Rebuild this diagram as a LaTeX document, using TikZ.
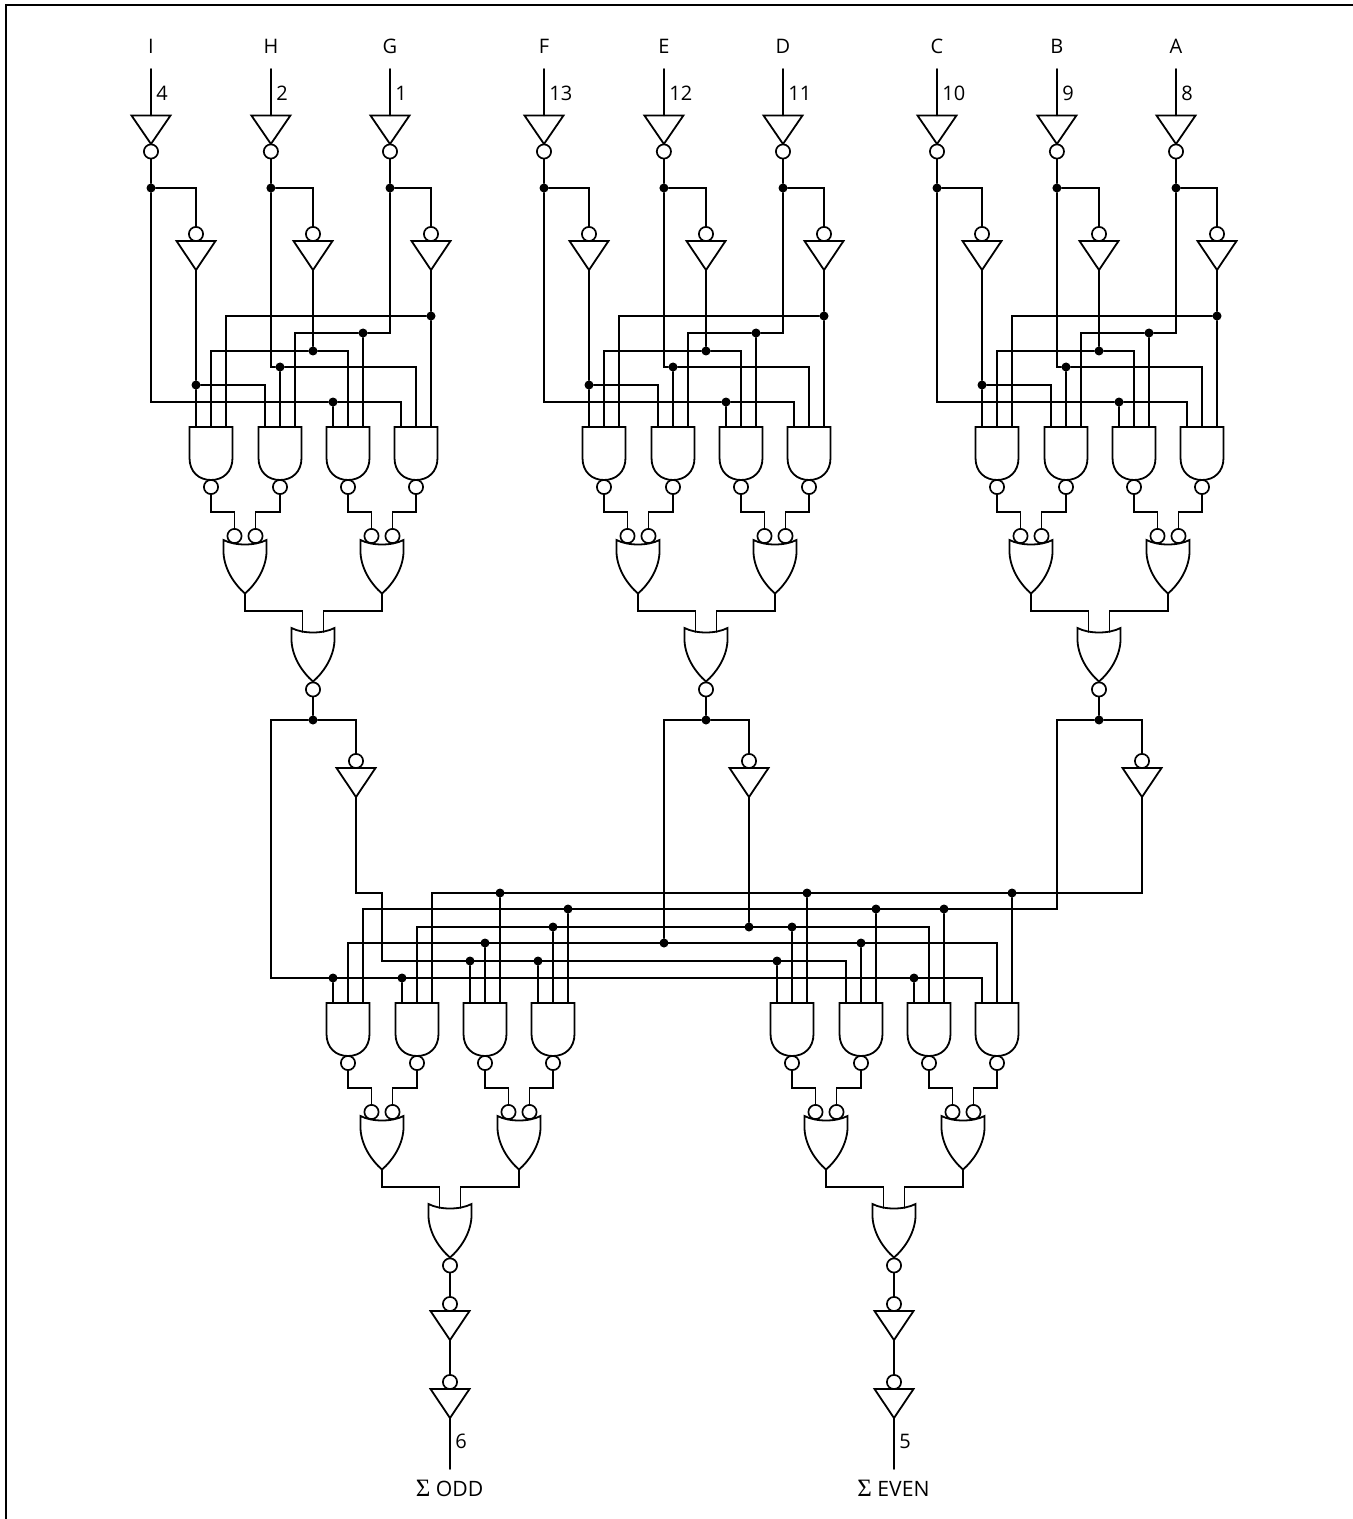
\documentclass[tikz,border=0pt]{standalone}
\usepackage{fontspec}
\setmainfont{Open Sans}
\newfontfamily\sigmafont{Liberation Serif}
\usetikzlibrary{positioning}

\tikzset{
    wire/.style={line width=0.9pt, line cap=round, line join=miter},
    bubble/.style={circle, draw, fill=white, line width=0.85pt, minimum size=7.1pt, inner sep=0pt},
    junction/.style={circle, fill=black, minimum size=4.5pt, inner sep=0pt},
    pinname/.style={inner sep=0pt, font=\fontsize{10}{10}\selectfont},
    pinnum/.style={inner sep=0pt, anchor=west, font=\fontsize{10}{10}\selectfont},
    sumname/.style={inner sep=0pt, font=\fontsize{10.6}{11}\selectfont},
    % inverter, bubble below the triangle
    pics/invdn/.style={code={
        \draw[wire, fill=white] (-19.5,0) -- (19.5,0) -- (0,28.5) -- cycle;
        \coordinate (-in) at (0,0);
        \node[bubble] (-o) at (0,36) {};
    }},
    % inverter, bubble above the triangle
    pics/invup/.style={code={
        \draw[wire, fill=white] (-19.5,0) -- (19.5,0) -- (0,29) -- cycle;
        \node[bubble] (-o) at (0,-7) {};
        \coordinate (-out) at (0,29);
    }},
    % three input nand, pos = middle of its top edge
    pics/nandg/.style={code={
        \draw[wire] (-21.5,0) -- (-21.5,31) .. controls (-21.5,45) and (-12,53) .. (0,53)
            .. controls (12,53) and (21.5,45) .. (21.5,31) -- (21.5,0) -- cycle;
        \coordinate (-a) at (-15,0);
        \coordinate (-b) at (0,0);
        \coordinate (-c) at (15,0);
        \node[bubble] (-o) at (0,60) {};
    }},
    % or outline, pos = middle of the line between its two top corners
    pics/org/.style={code={
        \draw[wire] (-21.5,0) -- (-21.5,13) .. controls (-20.5,30) and (-10,45) .. (0,53.5)
            .. controls (10,45) and (20.5,30) .. (21.5,13) -- (21.5,0)
            .. controls (10,6) and (-10,6) .. cycle;
        \coordinate (-a) at (-10.5,4);
        \coordinate (-b) at (10.5,4);
        \coordinate (-pa) at (-10.5,-4);
        \coordinate (-pb) at (10.5,-4);
        \coordinate (-fa) at (-10.5,-28);
        \coordinate (-fb) at (10.5,-28);
        \coordinate (-ga) at (-10.5,-17);
        \coordinate (-gb) at (10.5,-17);
        \coordinate (-out) at (0,53.5);
    }},
}

% four nands, two ors with bubbles, one or with output bubble
\newcommand{\gatetree}[3]{
    \pic (#1n1) at (#2,#3) {nandg};
    \pic (#1n2) at ({#2+69},#3) {nandg};
    \pic (#1n3) at ({#2+137},#3) {nandg};
    \pic (#1n4) at ({#2+205},#3) {nandg};
    \pic (#1p) at ({#2+34},{#3+113}) {org};
    \pic (#1q) at ({#2+171},{#3+113}) {org};
    \pic (#1r) at ({#2+102},{#3+201}) {org};
    \node[bubble] (#1pa) at (#1p-pa) {};
    \node[bubble] (#1pb) at (#1p-pb) {};
    \node[bubble] (#1qa) at (#1q-pa) {};
    \node[bubble] (#1qb) at (#1q-pb) {};
    \node[bubble, below=0pt of #1r-out] (#1out) {};
    \draw[wire] (#1n1-o.south) |- (#1p-fa) -- (#1pa.north);
    \draw[wire] (#1n2-o.south) |- (#1p-fb) -- (#1pb.north);
    \draw[wire] (#1n3-o.south) |- (#1q-fa) -- (#1qa.north);
    \draw[wire] (#1n4-o.south) |- (#1q-fb) -- (#1qb.north);
    \draw[wire] (#1p-out) |- (#1r-ga) -- (#1r-a);
    \draw[wire] (#1q-out) |- (#1r-gb) -- (#1r-b);
}

\begin{document}
\begin{tikzpicture}[x=0.5pt, y=-0.5pt]
\useasboundingbox (0,0) rectangle (1353,1519);

% frame, only top and left
\coordinate (frametl) at (6,5);
\coordinate (framebl) at (6,1519);
\coordinate (frametr) at (1353,5);
\draw[line width=1pt] (framebl) -- (frametl) -- (frametr);

% three input blocks
\foreach \b/\ox/\la/\na/\lb/\nb/\lc/\nc in {1/0/I/4/H/2/G/1, 2/393/F/13/E/12/D/11, 3/786/C/10/B/9/A/8} {
    \gatetree{tr\b}{\ox+211}{427}
    \foreach \c/\cx/\ix/\lab/\num in {1/151/196/\la/\na, 2/270.9/313/\lb/\nb, 3/390/431/\lc/\nc} {
        \node[pinname] (name\b\c) at ({\ox+\cx},46.5) {\lab};
        \coordinate (pin\b\c) at ({\ox+\cx},69);
        \node[pinnum] (num\b\c) at ({\ox+\cx+5},93.5) {\num};
        \pic (ia\b\c) at ({\ox+\cx},115.5) {invdn};
        \node[junction] (t\b\c) at ({\ox+\cx},188) {};
        \pic (ib\b\c) at ({\ox+\ix},241) {invup};
        \draw[wire] (pin\b\c) -- (ia\b\c-in);
        \draw[wire] (ia\b\c-o.south) -- (t\b\c);
        \draw[wire] (t\b\c) -| (ib\b\c-o.north);
    }
    \node[junction] (m\b a) at (tr\b n1-a |- 0,385) {};
    \node[junction] (m\b b) at (tr\b n2-b |- 0,367) {};
    \node[junction] (m\b c) at (ib\b2-out |- 0,351) {};
    \node[junction] (m\b d) at (tr\b n3-a |- 0,402) {};
    \node[junction] (m\b e) at (tr\b n3-c |- 0,333) {};
    \node[junction] (m\b f) at (tr\b n4-c |- 0,316) {};
    \draw[wire] (t\b1) |- (m\b d);
    \draw[wire] (m\b d) -- (tr\b n3-a);
    \draw[wire] (m\b d) -| (tr\b n4-a);
    \draw[wire] (ib\b1-out) -- (m\b a) -- (tr\b n1-a);
    \draw[wire] (m\b a) -| (tr\b n2-a);
    \draw[wire] (t\b2) |- (m\b b);
    \draw[wire] (m\b b) -- (tr\b n2-b);
    \draw[wire] (m\b b) -| (tr\b n4-b);
    \draw[wire] (ib\b2-out) -- (m\b c);
    \draw[wire] (m\b c) -| (tr\b n1-b);
    \draw[wire] (m\b c) -| (tr\b n3-b);
    \draw[wire] (t\b3) |- (m\b e);
    \draw[wire] (m\b e) -- (tr\b n3-c);
    \draw[wire] (m\b e) -| (tr\b n2-c);
    \draw[wire] (ib\b3-out) -- (m\b f) -- (tr\b n4-c);
    \draw[wire] (m\b f) -| (tr\b n1-c);
    % middle stage
    \node[junction] (s\b) at ({\ox+313},720) {};
    \pic (c\b) at ({\ox+356},768) {invup};
    \draw[wire] (tr\b out.south) -- (s\b);
    \draw[wire] (s\b) -| (c\b-o.north);
}

% the two output trees
\gatetree{od}{348}{1003}
\gatetree{ev}{792}{1003}

% bus rows and their bends
\coordinate (rowa) at (odn2-c |- 0,893);
\coordinate (rowb) at (odn1-c |- 0,909);
\coordinate (bendb) at (1057,909);
\coordinate (rowcl) at (odn2-b |- 0,927);
\coordinate (rowcr) at (evn3-b |- 0,927);
\coordinate (rowdl) at (odn1-b |- 0,943);
\coordinate (rowdr) at (evn4-b |- 0,943);
\coordinate (benda) at (356,893);
\coordinate (bendc) at (382,893);
\coordinate (bendd) at (382,961);
\coordinate (rowe) at (evn2-a |- 0,961);
\coordinate (bende) at (271,978);
\coordinate (rowf) at (evn4-a |- 0,978);

\draw[wire] (c3-out) |- (rowa) -- (odn2-c);
\draw[wire] (s3) -| (bendb) -- (rowb) -- (odn1-c);
\draw[wire] (odn2-b) -- (rowcl) -- (rowcr) -- (evn3-b);
\draw[wire] (odn1-b) -- (rowdl) -- (rowdr) -- (evn4-b);
\draw[wire] (c1-out) -- (benda) -- (bendc) -- (bendd) -- (rowe) -- (evn2-a);
\draw[wire] (s1) -| (bende) -- (rowf) -- (evn4-a);

\node[junction] (j2) at (c2-out |- 0,927) {};
\node[junction] (j3) at (664,943) {};
\draw[wire] (c2-out) -- (j2);
\draw[wire] (s2) -| (j3);

% tap points on the bus, gate input from row
\foreach \g/\y in {odn3-c/893, evn1-c/893, evn4-c/893,
                   odn4-c/909, evn2-c/909, evn3-c/909,
                   odn4-b/927, evn1-b/927,
                   odn3-b/943, evn2-b/943,
                   odn3-a/961, odn4-a/961, evn1-a/961,
                   odn1-a/978, odn2-a/978, evn3-a/978} {
    \node[junction] (tap\g) at (\g |- 0,\y) {};
    \draw[wire] (tap\g) -- (\g);
}

% output inverters
\foreach \t/\lab/\num/\sx in {od/ODD/6/449.5, ev/EVEN/5/893.5} {
    \pic (\t u) at (\t r-out |- 0,1311) {invup};
    \pic (\t v) at (\t r-out |- 0,1389) {invup};
    \coordinate (\t end) at (\t r-out |- 0,1469);
    \draw[wire] (\t out.south) -- (\t u-o.north);
    \draw[wire] (\t u-out) -- (\t v-o.north);
    \draw[wire] (\t v-out) -- (\t end);
    \node[pinnum] (\t num) at ([xshift=2.5pt]\t end |- 0,1441.5) {\num};
    \node[sumname] (\t sum) at (\sx,1488) {{\sigmafont\fontsize{12.5}{12}\selectfont Σ} \lab};
}
\end{tikzpicture}
\end{document}
